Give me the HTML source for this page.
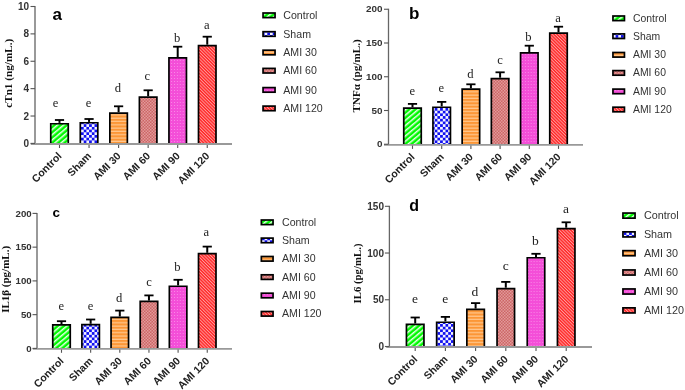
<!DOCTYPE html>
<html><head><meta charset="utf-8"><style>
html,body{margin:0;padding:0;background:#fff;width:685px;height:390px;overflow:hidden}
svg{display:block;will-change:transform}
</style></head><body>
<svg width="685" height="390" viewBox="0 0 685 390">

<defs>
 <pattern id="pCtl" patternUnits="userSpaceOnUse" width="4" height="4" patternTransform="rotate(50)">
  <rect width="4" height="4" fill="#00f800"/><rect width="1.5" height="4" fill="#eaffea"/>
 </pattern>
 <pattern id="pSham" patternUnits="userSpaceOnUse" width="5.4" height="5.4">
  <rect width="5.4" height="5.4" fill="#1010f0"/><rect width="2.7" height="2.7" fill="#f4f4ff"/><rect x="2.7" y="2.7" width="2.7" height="2.7" fill="#f4f4ff"/>
 </pattern>
 <pattern id="p30" patternUnits="userSpaceOnUse" width="3.3" height="3.3">
  <rect width="3.3" height="3.3" fill="#fc9636"/><rect y="2.1" width="3.3" height="1.2" fill="#ffc890"/>
 </pattern>
 <pattern id="p60" patternUnits="userSpaceOnUse" width="3" height="3">
  <rect width="3" height="3" fill="#cc6666"/><rect width="1.5" height="1.5" fill="#e29a9a"/><rect x="1.5" y="1.5" width="1.5" height="1.5" fill="#e29a9a"/>
 </pattern>
 <pattern id="p90" patternUnits="userSpaceOnUse" width="2.9" height="3">
  <rect width="2.9" height="3" fill="#f44ed8"/><rect width="0.9" height="0.9" fill="#fa94ea"/>
 </pattern>
 <pattern id="p120" patternUnits="userSpaceOnUse" width="2.3" height="2.3" patternTransform="rotate(-45)">
  <rect width="2.3" height="2.3" fill="#ff2424"/><rect width="0.95" height="2.3" fill="#ff9c9c"/>
 </pattern>
</defs>
<rect width="685" height="390" fill="#fff"/>
<line x1="35" y1="6.00" x2="35" y2="144" stroke="#999" stroke-width="2"/>
<text transform="translate(29.00,146.90) scale(1,1)" text-anchor="end" font-family='"Liberation Sans", sans-serif' font-weight="bold" font-size="10" fill="#333">0</text>
<line x1="30.5" y1="116.02" x2="35" y2="116.02" stroke="#555" stroke-width="1.1"/>
<text transform="translate(29.00,119.52) scale(1,1)" text-anchor="end" font-family='"Liberation Sans", sans-serif' font-weight="bold" font-size="10" fill="#333">2</text>
<line x1="30.5" y1="88.64" x2="35" y2="88.64" stroke="#555" stroke-width="1.1"/>
<text transform="translate(29.00,92.14) scale(1,1)" text-anchor="end" font-family='"Liberation Sans", sans-serif' font-weight="bold" font-size="10" fill="#333">4</text>
<line x1="30.5" y1="61.26" x2="35" y2="61.26" stroke="#555" stroke-width="1.1"/>
<text transform="translate(29.00,64.76) scale(1,1)" text-anchor="end" font-family='"Liberation Sans", sans-serif' font-weight="bold" font-size="10" fill="#333">6</text>
<line x1="30.5" y1="33.88" x2="35" y2="33.88" stroke="#555" stroke-width="1.1"/>
<text transform="translate(29.00,37.38) scale(1,1)" text-anchor="end" font-family='"Liberation Sans", sans-serif' font-weight="bold" font-size="10" fill="#333">8</text>
<line x1="30.5" y1="6.50" x2="35" y2="6.50" stroke="#555" stroke-width="1.1"/>
<text transform="translate(29.00,10.00) scale(1,1)" text-anchor="end" font-family='"Liberation Sans", sans-serif' font-weight="bold" font-size="10" fill="#333">10</text>
<line x1="59.50" y1="144" x2="59.50" y2="148" stroke="#555" stroke-width="1.1"/>
<line x1="59.50" y1="122.9" x2="59.50" y2="120" stroke="#000" stroke-width="2"/>
<line x1="54.90" y1="120" x2="64.10" y2="120" stroke="#000" stroke-width="1.8"/>
<rect x="50.75" y="123.75" width="17.50" height="20.25" fill="url(#pCtl)"/>
<path d="M50.75,144.00 V123.75 H68.25 V144.00" fill="none" stroke="#000" stroke-width="1.7"/>
<text x="52.83" y="107.40" font-family='"Liberation Serif", serif' font-size="12.6" fill="#222">e</text>
<text transform="translate(60.00,154.40) rotate(-45)" text-anchor="end" font-family='"Liberation Sans", sans-serif' font-weight="bold" font-size="10.5" fill="#222" dy="3.3">Control</text>
<line x1="89.05" y1="144" x2="89.05" y2="148" stroke="#555" stroke-width="1.1"/>
<line x1="89.05" y1="121.9" x2="89.05" y2="119" stroke="#000" stroke-width="2"/>
<line x1="84.45" y1="119" x2="93.65" y2="119" stroke="#000" stroke-width="1.8"/>
<rect x="80.30" y="122.75" width="17.50" height="21.25" fill="url(#pSham)"/>
<path d="M80.30,144.00 V122.75 H97.80 V144.00" fill="none" stroke="#000" stroke-width="1.7"/>
<text x="85.73" y="107.40" font-family='"Liberation Serif", serif' font-size="12.6" fill="#222">e</text>
<text transform="translate(89.55,154.40) rotate(-45)" text-anchor="end" font-family='"Liberation Sans", sans-serif' font-weight="bold" font-size="10.5" fill="#222" dy="3.3">Sham</text>
<line x1="118.60" y1="144" x2="118.60" y2="148" stroke="#555" stroke-width="1.1"/>
<line x1="118.60" y1="112.2" x2="118.60" y2="106.3" stroke="#000" stroke-width="2"/>
<line x1="114.00" y1="106.3" x2="123.20" y2="106.3" stroke="#000" stroke-width="1.8"/>
<rect x="109.85" y="113.05" width="17.50" height="30.95" fill="url(#p30)"/>
<path d="M109.85,144.00 V113.05 H127.35 V144.00" fill="none" stroke="#000" stroke-width="1.7"/>
<text x="114.85" y="92.38" font-family='"Liberation Serif", serif' font-size="12.6" fill="#222">d</text>
<text transform="translate(119.10,154.40) rotate(-45)" text-anchor="end" font-family='"Liberation Sans", sans-serif' font-weight="bold" font-size="10.5" fill="#222" dy="3.3">AMI 30</text>
<line x1="148.15" y1="144" x2="148.15" y2="148" stroke="#555" stroke-width="1.1"/>
<line x1="148.15" y1="96.3" x2="148.15" y2="90.3" stroke="#000" stroke-width="2"/>
<line x1="143.55" y1="90.3" x2="152.75" y2="90.3" stroke="#000" stroke-width="1.8"/>
<rect x="139.40" y="97.15" width="17.50" height="46.85" fill="url(#p60)"/>
<path d="M139.40,144.00 V97.15 H156.90 V144.00" fill="none" stroke="#000" stroke-width="1.7"/>
<text x="144.43" y="79.60" font-family='"Liberation Serif", serif' font-size="12.6" fill="#222">c</text>
<text transform="translate(148.65,154.40) rotate(-45)" text-anchor="end" font-family='"Liberation Sans", sans-serif' font-weight="bold" font-size="10.5" fill="#222" dy="3.3">AMI 60</text>
<line x1="177.70" y1="144" x2="177.70" y2="148" stroke="#555" stroke-width="1.1"/>
<line x1="177.70" y1="57" x2="177.70" y2="46.7" stroke="#000" stroke-width="2"/>
<line x1="173.10" y1="46.7" x2="182.30" y2="46.7" stroke="#000" stroke-width="1.8"/>
<rect x="168.95" y="57.85" width="17.50" height="86.15" fill="url(#p90)"/>
<path d="M168.95,144.00 V57.85 H186.45 V144.00" fill="none" stroke="#000" stroke-width="1.7"/>
<text x="174.05" y="41.58" font-family='"Liberation Serif", serif' font-size="12.6" fill="#222">b</text>
<text transform="translate(178.20,154.40) rotate(-45)" text-anchor="end" font-family='"Liberation Sans", sans-serif' font-weight="bold" font-size="10.5" fill="#222" dy="3.3">AMI 90</text>
<line x1="207.25" y1="144" x2="207.25" y2="148" stroke="#555" stroke-width="1.1"/>
<line x1="207.25" y1="44.7" x2="207.25" y2="36.7" stroke="#000" stroke-width="2"/>
<line x1="202.65" y1="36.7" x2="211.85" y2="36.7" stroke="#000" stroke-width="1.8"/>
<rect x="198.50" y="45.55" width="17.50" height="98.45" fill="url(#p120)"/>
<path d="M198.50,144.00 V45.55 H216.00 V144.00" fill="none" stroke="#000" stroke-width="1.7"/>
<text x="203.93" y="28.50" font-family='"Liberation Serif", serif' font-size="12.6" fill="#222">a</text>
<text transform="translate(207.75,154.40) rotate(-45)" text-anchor="end" font-family='"Liberation Sans", sans-serif' font-weight="bold" font-size="10.5" fill="#222" dy="3.3">AMI 120</text>
<line x1="30.8" y1="144" x2="232" y2="144" stroke="#999" stroke-width="1.8"/>
<line x1="30.5" y1="143.4" x2="35" y2="143.4" stroke="#555" stroke-width="1.1"/>
<text transform="translate(12,73.3) rotate(-90)" text-anchor="middle" font-family='"Liberation Serif", serif' font-weight="bold" font-size="11.2" fill="#111">cTn1 (ng/mL.)</text>
<text x="52.5" y="19.5" font-family='"Liberation Sans", sans-serif' font-weight="bold" font-size="17" fill="#000">a</text>
<rect x="263.05" y="13.00" width="12.00" height="4.60" fill="url(#pCtl)" stroke="#000" stroke-width="1.7"/>
<text x="283.3" y="18.92" font-family='"Liberation Sans", sans-serif' font-size="10.6" fill="#333">Control</text>
<rect x="263.05" y="31.70" width="12.00" height="4.60" fill="url(#pSham)" stroke="#000" stroke-width="1.7"/>
<text x="283.3" y="37.62" font-family='"Liberation Sans", sans-serif' font-size="10.6" fill="#333">Sham</text>
<rect x="263.05" y="50.20" width="12.00" height="4.60" fill="url(#p30)" stroke="#000" stroke-width="1.7"/>
<text x="283.3" y="56.12" font-family='"Liberation Sans", sans-serif' font-size="10.6" fill="#333">AMI 30</text>
<rect x="263.05" y="68.40" width="12.00" height="4.60" fill="url(#p60)" stroke="#000" stroke-width="1.7"/>
<text x="283.3" y="74.32" font-family='"Liberation Sans", sans-serif' font-size="10.6" fill="#333">AMI 60</text>
<rect x="263.05" y="87.60" width="12.00" height="4.60" fill="url(#p90)" stroke="#000" stroke-width="1.7"/>
<text x="283.3" y="93.52" font-family='"Liberation Sans", sans-serif' font-size="10.6" fill="#333">AMI 90</text>
<rect x="263.05" y="106.10" width="12.00" height="4.60" fill="url(#p120)" stroke="#000" stroke-width="1.7"/>
<text x="283.3" y="112.02" font-family='"Liberation Sans", sans-serif' font-size="10.6" fill="#333">AMI 120</text>
<line x1="388.5" y1="8.75" x2="388.5" y2="144.9" stroke="#666" stroke-width="1.3"/>
<text transform="translate(382.50,147.35) scale(1.1,1)" text-anchor="end" font-family='"Liberation Sans", sans-serif' font-weight="bold" font-size="9" fill="#333">0</text>
<line x1="384.0" y1="110.50" x2="388.5" y2="110.50" stroke="#555" stroke-width="1.1"/>
<text transform="translate(382.50,113.60) scale(1.1,1)" text-anchor="end" font-family='"Liberation Sans", sans-serif' font-weight="bold" font-size="9" fill="#333">50</text>
<line x1="384.0" y1="76.75" x2="388.5" y2="76.75" stroke="#555" stroke-width="1.1"/>
<text transform="translate(382.50,79.85) scale(1.1,1)" text-anchor="end" font-family='"Liberation Sans", sans-serif' font-weight="bold" font-size="9" fill="#333">100</text>
<line x1="384.0" y1="43.00" x2="388.5" y2="43.00" stroke="#555" stroke-width="1.1"/>
<text transform="translate(382.50,46.10) scale(1.1,1)" text-anchor="end" font-family='"Liberation Sans", sans-serif' font-weight="bold" font-size="9" fill="#333">150</text>
<line x1="384.0" y1="9.25" x2="388.5" y2="9.25" stroke="#555" stroke-width="1.1"/>
<text transform="translate(382.50,12.35) scale(1.1,1)" text-anchor="end" font-family='"Liberation Sans", sans-serif' font-weight="bold" font-size="9" fill="#333">200</text>
<line x1="412.50" y1="144.9" x2="412.50" y2="148.9" stroke="#555" stroke-width="1.1"/>
<line x1="412.50" y1="107.3" x2="412.50" y2="103.9" stroke="#000" stroke-width="2"/>
<line x1="407.90" y1="103.9" x2="417.10" y2="103.9" stroke="#000" stroke-width="1.8"/>
<rect x="403.75" y="108.15" width="17.50" height="36.75" fill="url(#pCtl)"/>
<path d="M403.75,144.90 V108.15 H421.25 V144.90" fill="none" stroke="#000" stroke-width="1.7"/>
<text x="409.43" y="95.10" font-family='"Liberation Serif", serif' font-size="12.6" fill="#222">e</text>
<text transform="translate(413.00,155.25) rotate(-45)" text-anchor="end" font-family='"Liberation Sans", sans-serif' font-weight="bold" font-size="10.5" fill="#222" dy="3.3">Control</text>
<line x1="441.70" y1="144.9" x2="441.70" y2="148.9" stroke="#555" stroke-width="1.1"/>
<line x1="441.70" y1="106.4" x2="441.70" y2="101.9" stroke="#000" stroke-width="2"/>
<line x1="437.10" y1="101.9" x2="446.30" y2="101.9" stroke="#000" stroke-width="1.8"/>
<rect x="432.95" y="107.25" width="17.50" height="37.65" fill="url(#pSham)"/>
<path d="M432.95,144.90 V107.25 H450.45 V144.90" fill="none" stroke="#000" stroke-width="1.7"/>
<text x="438.53" y="91.60" font-family='"Liberation Serif", serif' font-size="12.6" fill="#222">e</text>
<text transform="translate(442.20,155.25) rotate(-45)" text-anchor="end" font-family='"Liberation Sans", sans-serif' font-weight="bold" font-size="10.5" fill="#222" dy="3.3">Sham</text>
<line x1="470.90" y1="144.9" x2="470.90" y2="148.9" stroke="#555" stroke-width="1.1"/>
<line x1="470.90" y1="88.3" x2="470.90" y2="84.3" stroke="#000" stroke-width="2"/>
<line x1="466.30" y1="84.3" x2="475.50" y2="84.3" stroke="#000" stroke-width="1.8"/>
<rect x="462.15" y="89.15" width="17.50" height="55.75" fill="url(#p30)"/>
<path d="M462.15,144.90 V89.15 H479.65 V144.90" fill="none" stroke="#000" stroke-width="1.7"/>
<text x="467.25" y="77.78" font-family='"Liberation Serif", serif' font-size="12.6" fill="#222">d</text>
<text transform="translate(471.40,155.25) rotate(-45)" text-anchor="end" font-family='"Liberation Sans", sans-serif' font-weight="bold" font-size="10.5" fill="#222" dy="3.3">AMI 30</text>
<line x1="500.10" y1="144.9" x2="500.10" y2="148.9" stroke="#555" stroke-width="1.1"/>
<line x1="500.10" y1="77.7" x2="500.10" y2="72.3" stroke="#000" stroke-width="2"/>
<line x1="495.50" y1="72.3" x2="504.70" y2="72.3" stroke="#000" stroke-width="1.8"/>
<rect x="491.35" y="78.55" width="17.50" height="66.35" fill="url(#p60)"/>
<path d="M491.35,144.90 V78.55 H508.85 V144.90" fill="none" stroke="#000" stroke-width="1.7"/>
<text x="497.23" y="63.60" font-family='"Liberation Serif", serif' font-size="12.6" fill="#222">c</text>
<text transform="translate(500.60,155.25) rotate(-45)" text-anchor="end" font-family='"Liberation Sans", sans-serif' font-weight="bold" font-size="10.5" fill="#222" dy="3.3">AMI 60</text>
<line x1="529.30" y1="144.9" x2="529.30" y2="148.9" stroke="#555" stroke-width="1.1"/>
<line x1="529.30" y1="52" x2="529.30" y2="45.7" stroke="#000" stroke-width="2"/>
<line x1="524.70" y1="45.7" x2="533.90" y2="45.7" stroke="#000" stroke-width="1.8"/>
<rect x="520.55" y="52.85" width="17.50" height="92.05" fill="url(#p90)"/>
<path d="M520.55,144.90 V52.85 H538.05 V144.90" fill="none" stroke="#000" stroke-width="1.7"/>
<text x="525.15" y="41.08" font-family='"Liberation Serif", serif' font-size="12.6" fill="#222">b</text>
<text transform="translate(529.80,155.25) rotate(-45)" text-anchor="end" font-family='"Liberation Sans", sans-serif' font-weight="bold" font-size="10.5" fill="#222" dy="3.3">AMI 90</text>
<line x1="558.50" y1="144.9" x2="558.50" y2="148.9" stroke="#555" stroke-width="1.1"/>
<line x1="558.50" y1="32.3" x2="558.50" y2="26.7" stroke="#000" stroke-width="2"/>
<line x1="553.90" y1="26.7" x2="563.10" y2="26.7" stroke="#000" stroke-width="1.8"/>
<rect x="549.75" y="33.15" width="17.50" height="111.75" fill="url(#p120)"/>
<path d="M549.75,144.90 V33.15 H567.25 V144.90" fill="none" stroke="#000" stroke-width="1.7"/>
<text x="555.23" y="21.50" font-family='"Liberation Serif", serif' font-size="12.6" fill="#222">a</text>
<text transform="translate(559.00,155.25) rotate(-45)" text-anchor="end" font-family='"Liberation Sans", sans-serif' font-weight="bold" font-size="10.5" fill="#222" dy="3.3">AMI 120</text>
<line x1="384" y1="144.9" x2="583" y2="144.9" stroke="#999" stroke-width="1.8"/>
<line x1="384.0" y1="144.25" x2="388.5" y2="144.25" stroke="#555" stroke-width="1.1"/>
<text transform="translate(360.2,75.9) rotate(-90)" text-anchor="middle" font-family='"Liberation Serif", serif' font-weight="bold" font-size="11.2" fill="#111">TNFα (pg/mL.)</text>
<text x="409" y="19.2" font-family='"Liberation Sans", sans-serif' font-weight="bold" font-size="17" fill="#000">b</text>
<rect x="612.95" y="16.00" width="11.50" height="4.60" fill="url(#pCtl)" stroke="#000" stroke-width="1.7"/>
<text x="633" y="21.84" font-family='"Liberation Sans", sans-serif' font-size="10.4" fill="#333">Control</text>
<rect x="612.95" y="33.90" width="11.50" height="4.60" fill="url(#pSham)" stroke="#000" stroke-width="1.7"/>
<text x="633" y="39.74" font-family='"Liberation Sans", sans-serif' font-size="10.4" fill="#333">Sham</text>
<rect x="612.95" y="52.50" width="11.50" height="4.60" fill="url(#p30)" stroke="#000" stroke-width="1.7"/>
<text x="633" y="58.34" font-family='"Liberation Sans", sans-serif' font-size="10.4" fill="#333">AMI 30</text>
<rect x="612.95" y="70.60" width="11.50" height="4.60" fill="url(#p60)" stroke="#000" stroke-width="1.7"/>
<text x="633" y="76.44" font-family='"Liberation Sans", sans-serif' font-size="10.4" fill="#333">AMI 60</text>
<rect x="612.95" y="89.10" width="11.50" height="4.60" fill="url(#p90)" stroke="#000" stroke-width="1.7"/>
<text x="633" y="94.94" font-family='"Liberation Sans", sans-serif' font-size="10.4" fill="#333">AMI 90</text>
<rect x="612.95" y="107.20" width="11.50" height="4.60" fill="url(#p120)" stroke="#000" stroke-width="1.7"/>
<text x="633" y="113.04" font-family='"Liberation Sans", sans-serif' font-size="10.4" fill="#333">AMI 120</text>
<line x1="37" y1="212.90" x2="37" y2="348.8" stroke="#999" stroke-width="2"/>
<text transform="translate(31.70,351.60) scale(1.1,1)" text-anchor="end" font-family='"Liberation Sans", sans-serif' font-weight="bold" font-size="8.8" fill="#333">0</text>
<line x1="32.5" y1="314.65" x2="37" y2="314.65" stroke="#555" stroke-width="1.1"/>
<text transform="translate(31.70,317.85) scale(1.1,1)" text-anchor="end" font-family='"Liberation Sans", sans-serif' font-weight="bold" font-size="8.8" fill="#333">50</text>
<line x1="32.5" y1="280.90" x2="37" y2="280.90" stroke="#555" stroke-width="1.1"/>
<text transform="translate(31.70,284.10) scale(1.1,1)" text-anchor="end" font-family='"Liberation Sans", sans-serif' font-weight="bold" font-size="8.8" fill="#333">100</text>
<line x1="32.5" y1="247.15" x2="37" y2="247.15" stroke="#555" stroke-width="1.1"/>
<text transform="translate(31.70,250.35) scale(1.1,1)" text-anchor="end" font-family='"Liberation Sans", sans-serif' font-weight="bold" font-size="8.8" fill="#333">150</text>
<line x1="32.5" y1="213.40" x2="37" y2="213.40" stroke="#555" stroke-width="1.1"/>
<text transform="translate(31.70,216.60) scale(1.1,1)" text-anchor="end" font-family='"Liberation Sans", sans-serif' font-weight="bold" font-size="8.8" fill="#333">200</text>
<line x1="61.50" y1="348.8" x2="61.50" y2="352.8" stroke="#555" stroke-width="1.1"/>
<line x1="61.50" y1="324" x2="61.50" y2="321.2" stroke="#000" stroke-width="2"/>
<line x1="56.90" y1="321.2" x2="66.10" y2="321.2" stroke="#000" stroke-width="1.8"/>
<rect x="52.75" y="324.85" width="17.50" height="23.95" fill="url(#pCtl)"/>
<path d="M52.75,348.80 V324.85 H70.25 V348.80" fill="none" stroke="#000" stroke-width="1.7"/>
<text x="58.43" y="309.50" font-family='"Liberation Serif", serif' font-size="12.6" fill="#222">e</text>
<text transform="translate(62.00,359.40) rotate(-45)" text-anchor="end" font-family='"Liberation Sans", sans-serif' font-weight="bold" font-size="10.5" fill="#222" dy="3.3">Control</text>
<line x1="90.65" y1="348.8" x2="90.65" y2="352.8" stroke="#555" stroke-width="1.1"/>
<line x1="90.65" y1="323.8" x2="90.65" y2="319.5" stroke="#000" stroke-width="2"/>
<line x1="86.05" y1="319.5" x2="95.25" y2="319.5" stroke="#000" stroke-width="1.8"/>
<rect x="81.90" y="324.65" width="17.50" height="24.15" fill="url(#pSham)"/>
<path d="M81.90,348.80 V324.65 H99.40 V348.80" fill="none" stroke="#000" stroke-width="1.7"/>
<text x="87.63" y="309.50" font-family='"Liberation Serif", serif' font-size="12.6" fill="#222">e</text>
<text transform="translate(91.15,359.40) rotate(-45)" text-anchor="end" font-family='"Liberation Sans", sans-serif' font-weight="bold" font-size="10.5" fill="#222" dy="3.3">Sham</text>
<line x1="119.80" y1="348.8" x2="119.80" y2="352.8" stroke="#555" stroke-width="1.1"/>
<line x1="119.80" y1="316.5" x2="119.80" y2="310.6" stroke="#000" stroke-width="2"/>
<line x1="115.20" y1="310.6" x2="124.40" y2="310.6" stroke="#000" stroke-width="1.8"/>
<rect x="111.05" y="317.35" width="17.50" height="31.45" fill="url(#p30)"/>
<path d="M111.05,348.80 V317.35 H128.55 V348.80" fill="none" stroke="#000" stroke-width="1.7"/>
<text x="116.05" y="301.88" font-family='"Liberation Serif", serif' font-size="12.6" fill="#222">d</text>
<text transform="translate(120.30,359.40) rotate(-45)" text-anchor="end" font-family='"Liberation Sans", sans-serif' font-weight="bold" font-size="10.5" fill="#222" dy="3.3">AMI 30</text>
<line x1="148.95" y1="348.8" x2="148.95" y2="352.8" stroke="#555" stroke-width="1.1"/>
<line x1="148.95" y1="300.6" x2="148.95" y2="295.4" stroke="#000" stroke-width="2"/>
<line x1="144.35" y1="295.4" x2="153.55" y2="295.4" stroke="#000" stroke-width="1.8"/>
<rect x="140.20" y="301.45" width="17.50" height="47.35" fill="url(#p60)"/>
<path d="M140.20,348.80 V301.45 H157.70 V348.80" fill="none" stroke="#000" stroke-width="1.7"/>
<text x="146.23" y="285.60" font-family='"Liberation Serif", serif' font-size="12.6" fill="#222">c</text>
<text transform="translate(149.45,359.40) rotate(-45)" text-anchor="end" font-family='"Liberation Sans", sans-serif' font-weight="bold" font-size="10.5" fill="#222" dy="3.3">AMI 60</text>
<line x1="178.10" y1="348.8" x2="178.10" y2="352.8" stroke="#555" stroke-width="1.1"/>
<line x1="178.10" y1="285.4" x2="178.10" y2="279.8" stroke="#000" stroke-width="2"/>
<line x1="173.50" y1="279.8" x2="182.70" y2="279.8" stroke="#000" stroke-width="1.8"/>
<rect x="169.35" y="286.25" width="17.50" height="62.55" fill="url(#p90)"/>
<path d="M169.35,348.80 V286.25 H186.85 V348.80" fill="none" stroke="#000" stroke-width="1.7"/>
<text x="174.25" y="270.98" font-family='"Liberation Serif", serif' font-size="12.6" fill="#222">b</text>
<text transform="translate(178.60,359.40) rotate(-45)" text-anchor="end" font-family='"Liberation Sans", sans-serif' font-weight="bold" font-size="10.5" fill="#222" dy="3.3">AMI 90</text>
<line x1="207.25" y1="348.8" x2="207.25" y2="352.8" stroke="#555" stroke-width="1.1"/>
<line x1="207.25" y1="252.8" x2="207.25" y2="246.6" stroke="#000" stroke-width="2"/>
<line x1="202.65" y1="246.6" x2="211.85" y2="246.6" stroke="#000" stroke-width="1.8"/>
<rect x="198.50" y="253.65" width="17.50" height="95.15" fill="url(#p120)"/>
<path d="M198.50,348.80 V253.65 H216.00 V348.80" fill="none" stroke="#000" stroke-width="1.7"/>
<text x="203.43" y="236.20" font-family='"Liberation Serif", serif' font-size="12.6" fill="#222">a</text>
<text transform="translate(207.75,359.40) rotate(-45)" text-anchor="end" font-family='"Liberation Sans", sans-serif' font-weight="bold" font-size="10.5" fill="#222" dy="3.3">AMI 120</text>
<line x1="32.8" y1="348.8" x2="232" y2="348.8" stroke="#999" stroke-width="1.8"/>
<line x1="32.5" y1="348.4" x2="37" y2="348.4" stroke="#555" stroke-width="1.1"/>
<text transform="translate(8.6,279.4) rotate(-90)" text-anchor="middle" font-family='"Liberation Serif", serif' font-weight="bold" font-size="11" fill="#111">IL1β (pg/mL.)</text>
<text x="52.5" y="217.2" font-family='"Liberation Sans", sans-serif' font-weight="bold" font-size="13.5" fill="#000">c</text>
<rect x="261.35" y="220.00" width="11.70" height="4.60" fill="url(#pCtl)" stroke="#000" stroke-width="1.7"/>
<text x="282" y="225.92" font-family='"Liberation Sans", sans-serif' font-size="10.6" fill="#333">Control</text>
<rect x="261.35" y="238.10" width="11.70" height="4.60" fill="url(#pSham)" stroke="#000" stroke-width="1.7"/>
<text x="282" y="244.02" font-family='"Liberation Sans", sans-serif' font-size="10.6" fill="#333">Sham</text>
<rect x="261.35" y="256.50" width="11.70" height="4.60" fill="url(#p30)" stroke="#000" stroke-width="1.7"/>
<text x="282" y="262.42" font-family='"Liberation Sans", sans-serif' font-size="10.6" fill="#333">AMI 30</text>
<rect x="261.35" y="274.80" width="11.70" height="4.60" fill="url(#p60)" stroke="#000" stroke-width="1.7"/>
<text x="282" y="280.72" font-family='"Liberation Sans", sans-serif' font-size="10.6" fill="#333">AMI 60</text>
<rect x="261.35" y="293.20" width="11.70" height="4.60" fill="url(#p90)" stroke="#000" stroke-width="1.7"/>
<text x="282" y="299.12" font-family='"Liberation Sans", sans-serif' font-size="10.6" fill="#333">AMI 90</text>
<rect x="261.35" y="311.50" width="11.70" height="4.60" fill="url(#p120)" stroke="#000" stroke-width="1.7"/>
<text x="282" y="317.42" font-family='"Liberation Sans", sans-serif' font-size="10.6" fill="#333">AMI 120</text>
<line x1="389.4" y1="205.80" x2="389.4" y2="347" stroke="#666" stroke-width="1.3"/>
<text transform="translate(384.00,350.00) scale(1,1)" text-anchor="end" font-family='"Liberation Sans", sans-serif' font-weight="bold" font-size="10" fill="#333">0</text>
<line x1="384.9" y1="299.77" x2="389.4" y2="299.77" stroke="#555" stroke-width="1.1"/>
<text transform="translate(384.00,303.27) scale(1,1)" text-anchor="end" font-family='"Liberation Sans", sans-serif' font-weight="bold" font-size="10" fill="#333">50</text>
<line x1="384.9" y1="253.03" x2="389.4" y2="253.03" stroke="#555" stroke-width="1.1"/>
<text transform="translate(384.00,256.53) scale(1,1)" text-anchor="end" font-family='"Liberation Sans", sans-serif' font-weight="bold" font-size="10" fill="#333">100</text>
<line x1="384.9" y1="206.30" x2="389.4" y2="206.30" stroke="#555" stroke-width="1.1"/>
<text transform="translate(384.00,209.80) scale(1,1)" text-anchor="end" font-family='"Liberation Sans", sans-serif' font-weight="bold" font-size="10" fill="#333">150</text>
<line x1="415.20" y1="347" x2="415.20" y2="351" stroke="#555" stroke-width="1.1"/>
<line x1="415.20" y1="323.5" x2="415.20" y2="317.5" stroke="#000" stroke-width="2"/>
<line x1="410.60" y1="317.5" x2="419.80" y2="317.5" stroke="#000" stroke-width="1.8"/>
<rect x="406.45" y="324.35" width="17.50" height="22.65" fill="url(#pCtl)"/>
<path d="M406.45,347.00 V324.35 H423.95 V347.00" fill="none" stroke="#000" stroke-width="1.7"/>
<text x="412.03" y="303.31" font-family='"Liberation Serif", serif' font-size="13.5" fill="#222">e</text>
<text transform="translate(415.70,357.50) rotate(-45)" text-anchor="end" font-family='"Liberation Sans", sans-serif' font-weight="bold" font-size="10.5" fill="#222" dy="3.3">Control</text>
<line x1="445.40" y1="347" x2="445.40" y2="351" stroke="#555" stroke-width="1.1"/>
<line x1="445.40" y1="321.4" x2="445.40" y2="316.9" stroke="#000" stroke-width="2"/>
<line x1="440.80" y1="316.9" x2="450.00" y2="316.9" stroke="#000" stroke-width="1.8"/>
<rect x="436.65" y="322.25" width="17.50" height="24.75" fill="url(#pSham)"/>
<path d="M436.65,347.00 V322.25 H454.15 V347.00" fill="none" stroke="#000" stroke-width="1.7"/>
<text x="442.23" y="302.81" font-family='"Liberation Serif", serif' font-size="13.5" fill="#222">e</text>
<text transform="translate(445.90,357.50) rotate(-45)" text-anchor="end" font-family='"Liberation Sans", sans-serif' font-weight="bold" font-size="10.5" fill="#222" dy="3.3">Sham</text>
<line x1="475.60" y1="347" x2="475.60" y2="351" stroke="#555" stroke-width="1.1"/>
<line x1="475.60" y1="308.6" x2="475.60" y2="303.1" stroke="#000" stroke-width="2"/>
<line x1="471.00" y1="303.1" x2="480.20" y2="303.1" stroke="#000" stroke-width="1.8"/>
<rect x="466.85" y="309.45" width="17.50" height="37.55" fill="url(#p30)"/>
<path d="M466.85,347.00 V309.45 H484.35 V347.00" fill="none" stroke="#000" stroke-width="1.7"/>
<text x="471.52" y="296.39" font-family='"Liberation Serif", serif' font-size="13.5" fill="#222">d</text>
<text transform="translate(476.10,357.50) rotate(-45)" text-anchor="end" font-family='"Liberation Sans", sans-serif' font-weight="bold" font-size="10.5" fill="#222" dy="3.3">AMI 30</text>
<line x1="505.80" y1="347" x2="505.80" y2="351" stroke="#555" stroke-width="1.1"/>
<line x1="505.80" y1="287.7" x2="505.80" y2="281.9" stroke="#000" stroke-width="2"/>
<line x1="501.20" y1="281.9" x2="510.40" y2="281.9" stroke="#000" stroke-width="1.8"/>
<rect x="497.05" y="288.55" width="17.50" height="58.45" fill="url(#p60)"/>
<path d="M497.05,347.00 V288.55 H514.55 V347.00" fill="none" stroke="#000" stroke-width="1.7"/>
<text x="502.83" y="270.01" font-family='"Liberation Serif", serif' font-size="13.5" fill="#222">c</text>
<text transform="translate(506.30,357.50) rotate(-45)" text-anchor="end" font-family='"Liberation Sans", sans-serif' font-weight="bold" font-size="10.5" fill="#222" dy="3.3">AMI 60</text>
<line x1="536.00" y1="347" x2="536.00" y2="351" stroke="#555" stroke-width="1.1"/>
<line x1="536.00" y1="256.9" x2="536.00" y2="253.8" stroke="#000" stroke-width="2"/>
<line x1="531.40" y1="253.8" x2="540.60" y2="253.8" stroke="#000" stroke-width="1.8"/>
<rect x="527.25" y="257.75" width="17.50" height="89.25" fill="url(#p90)"/>
<path d="M527.25,347.00 V257.75 H544.75 V347.00" fill="none" stroke="#000" stroke-width="1.7"/>
<text x="532.02" y="245.19" font-family='"Liberation Serif", serif' font-size="13.5" fill="#222">b</text>
<text transform="translate(536.50,357.50) rotate(-45)" text-anchor="end" font-family='"Liberation Sans", sans-serif' font-weight="bold" font-size="10.5" fill="#222" dy="3.3">AMI 90</text>
<line x1="566.20" y1="347" x2="566.20" y2="351" stroke="#555" stroke-width="1.1"/>
<line x1="566.20" y1="227.7" x2="566.20" y2="222.3" stroke="#000" stroke-width="2"/>
<line x1="561.60" y1="222.3" x2="570.80" y2="222.3" stroke="#000" stroke-width="1.8"/>
<rect x="557.45" y="228.55" width="17.50" height="118.45" fill="url(#p120)"/>
<path d="M557.45,347.00 V228.55 H574.95 V347.00" fill="none" stroke="#000" stroke-width="1.7"/>
<text x="562.93" y="212.70" font-family='"Liberation Serif", serif' font-size="13.5" fill="#222">a</text>
<text transform="translate(566.70,357.50) rotate(-45)" text-anchor="end" font-family='"Liberation Sans", sans-serif' font-weight="bold" font-size="10.5" fill="#222" dy="3.3">AMI 120</text>
<line x1="386.3" y1="347" x2="592" y2="347" stroke="#999" stroke-width="1.8"/>
<line x1="384.9" y1="346.5" x2="389.4" y2="346.5" stroke="#555" stroke-width="1.1"/>
<text transform="translate(361,273.5) rotate(-90)" text-anchor="middle" font-family='"Liberation Serif", serif' font-weight="bold" font-size="10.8" fill="#111">IL6 (pg/mL.)</text>
<text x="409.2" y="211.2" font-family='"Liberation Sans", sans-serif' font-weight="bold" font-size="16" fill="#000">d</text>
<rect x="622.95" y="213.05" width="12.10" height="5.10" fill="url(#pCtl)" stroke="#000" stroke-width="1.7"/>
<text x="643.9" y="219.29" font-family='"Liberation Sans", sans-serif' font-size="10.8" fill="#333">Control</text>
<rect x="622.95" y="231.85" width="12.10" height="5.10" fill="url(#pSham)" stroke="#000" stroke-width="1.7"/>
<text x="643.9" y="238.09" font-family='"Liberation Sans", sans-serif' font-size="10.8" fill="#333">Sham</text>
<rect x="622.95" y="250.65" width="12.10" height="5.10" fill="url(#p30)" stroke="#000" stroke-width="1.7"/>
<text x="643.9" y="256.89" font-family='"Liberation Sans", sans-serif' font-size="10.8" fill="#333">AMI 30</text>
<rect x="622.95" y="269.95" width="12.10" height="5.10" fill="url(#p60)" stroke="#000" stroke-width="1.7"/>
<text x="643.9" y="276.19" font-family='"Liberation Sans", sans-serif' font-size="10.8" fill="#333">AMI 60</text>
<rect x="622.95" y="288.95" width="12.10" height="5.10" fill="url(#p90)" stroke="#000" stroke-width="1.7"/>
<text x="643.9" y="295.19" font-family='"Liberation Sans", sans-serif' font-size="10.8" fill="#333">AMI 90</text>
<rect x="622.95" y="307.85" width="12.10" height="5.10" fill="url(#p120)" stroke="#000" stroke-width="1.7"/>
<text x="643.9" y="314.09" font-family='"Liberation Sans", sans-serif' font-size="10.8" fill="#333">AMI 120</text>
</svg>
</body></html>
